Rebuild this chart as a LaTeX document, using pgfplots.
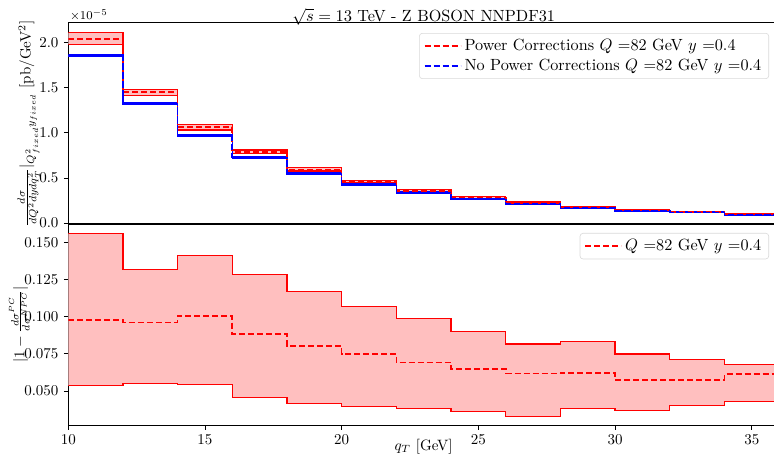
\documentclass[border=0pt]{standalone}
\usepackage{pgfplots}
\usepackage{pgfplotstable}
\pgfplotsset{compat=1.18}
\usepgfplotslibrary{fillbetween}
\usetikzlibrary{calc}

\pgfplotstableread{
x rc rlo rhi bc blo bhi
10 2.040 1.985 2.110 1.855 1.846 1.864
12 1.452 1.415 1.485 1.322 1.313 1.331
14 1.063 1.033 1.097 0.974 0.965 0.983
16 0.792 0.770 0.811 0.726 0.718 0.734
18 0.596 0.578 0.615 0.552 0.545 0.559
20 0.459 0.446 0.473 0.430 0.424 0.436
22 0.359 0.349 0.370 0.341 0.336 0.346
24 0.285 0.277 0.294 0.263 0.259 0.267
26 0.226 0.220 0.233 0.211 0.208 0.214
28 0.181 0.176 0.187 0.167 0.164 0.170
30 0.148 0.144 0.152 0.137 0.135 0.139
32 0.126 0.122 0.130 0.119 0.117 0.121
34 0.103 0.100 0.106 0.092 0.090 0.094
36 0.103 0.100 0.106 0.092 0.090 0.094
}\xsec

\pgfplotstableread{
x c lo hi
10 0.0979 0.0536 0.1560
12 0.0962 0.0552 0.1315
14 0.1006 0.0545 0.1410
16 0.0883 0.0455 0.1282
18 0.0804 0.0419 0.1167
20 0.0749 0.0395 0.1069
22 0.0693 0.0384 0.0989
24 0.0648 0.0364 0.0901
26 0.0619 0.0330 0.0816
28 0.0623 0.0384 0.0831
30 0.0576 0.0368 0.0749
32 0.0576 0.0401 0.0715
34 0.0614 0.0431 0.0677
36 0.0614 0.0431 0.0677
}\ratio

\pgfplotsset{
  panel/.style={
    scale only axis, width=473.8pt, height=134pt,
    xmin=10, xmax=36,
    tick align=outside, tick pos=left,
    major tick length=3pt,
    tick style={black, line width=0.6pt},
    axis line style={line width=0.7pt},
    legend cell align=left,
    legend style={draw=black!15, fill=white, rounded corners=2pt,
      font=\fontsize{10.8}{15}\selectfont,
      at={(rel axis cs:1,1)}, anchor=north east},
  },
}

\begin{document}
\begin{tikzpicture}
\begin{axis}[
  panel,
  name=top,
  ymin=-0.01, ymax=2.22,
  xtick=\empty,
  ytick={0,0.5,1,1.5,2},
  yticklabels={0.0,0.5,1.0,1.5,2.0},
  ylabel={$\frac{d\sigma}{dQ^2dydq_T^2}|_{Q^2_{fixed} y_{fixed}}$ [pb/GeV$^2$]},
  ylabel style={yshift=-7.5pt},
  legend style={xshift=-6.7pt, yshift=-6.7pt},
  legend image code/.code={\draw[#1, sharp corners] (0pt,0pt) -- (24pt,0pt);},
]
\addplot[const plot, red, line width=0.8pt, name path=ru, forget plot] table[x=x, y=rhi] {\xsec};
\addplot[const plot, red, line width=0.8pt, name path=rl, forget plot] table[x=x, y=rlo] {\xsec};
\addplot[red!25, forget plot] fill between[of=ru and rl];
\addplot[const plot, blue, line width=1pt, name path=bu, forget plot] table[x=x, y=bhi] {\xsec};
\addplot[const plot, blue, line width=1pt, name path=bl, forget plot] table[x=x, y=blo] {\xsec};
\addplot[blue!25, forget plot] fill between[of=bu and bl];
\addplot[const plot, draw=red, line width=1.1pt, dash pattern=on 4pt off 2pt] table[x=x, y=rc] {\xsec};
\addlegendentry{Power Corrections $Q$ =82 GeV $y$ =0.4}
\addplot[const plot, draw=blue, line width=1.1pt, dash pattern=on 4pt off 2pt] table[x=x, y=bc] {\xsec};
\addlegendentry{No Power Corrections $Q$ =82 GeV $y$ =0.4}
\end{axis}
\node[anchor=south west, inner sep=1pt, font=\footnotesize] at (top.north west) {$\times10^{-5}$};
\node[anchor=base, inner sep=0pt, font=\fontsize{10.8}{13}\selectfont] at ($(top.north)+(0,0.9pt)$) {$\sqrt{s}=13$ TeV - Z BOSON NNPDF31};

\begin{axis}[
  panel,
  name=bot,
  at={(top.south west)}, anchor=north west,
  ymin=0.0272, ymax=0.1623,
  xtick={10,15,20,25,30,35},
  ytick={0.05,0.075,0.1,0.125,0.15},
  yticklabel style={/pgf/number format/fixed, /pgf/number format/fixed zerofill, /pgf/number format/precision=3},
  ylabel={$|1-\frac{d\sigma^{PC}}{d\sigma^{NPC}}|$},
  ylabel style={yshift=-10.5pt},
  xlabel={$q_T$ [GeV]},
  xlabel style={at={(rel axis cs:0.5,0)}, anchor=base, yshift=-17pt},
  legend style={xshift=-6.7pt, yshift=-6pt},
  legend image code/.code={\draw[#1, sharp corners] (0pt,0pt) -- (24pt,0pt);},
]
\addplot[const plot, red, line width=0.8pt, name path=u, forget plot] table[x=x, y=hi] {\ratio};
\addplot[const plot, red, line width=0.8pt, name path=l, forget plot] table[x=x, y=lo] {\ratio};
\addplot[red!25, forget plot] fill between[of=u and l];
\addplot[const plot, draw=red, line width=1.1pt, dash pattern=on 4pt off 2pt] table[x=x, y=c] {\ratio};
\addlegendentry{$Q$ =82 GeV $y$ =0.4}
\end{axis}

\pgfresetboundingbox
\path[use as bounding box] ($(bot.south west)+(-45.5pt,-24.7pt)$) rectangle ($(top.north east)+(-3.4pt,15.3pt)$);
\end{tikzpicture}
\end{document}
